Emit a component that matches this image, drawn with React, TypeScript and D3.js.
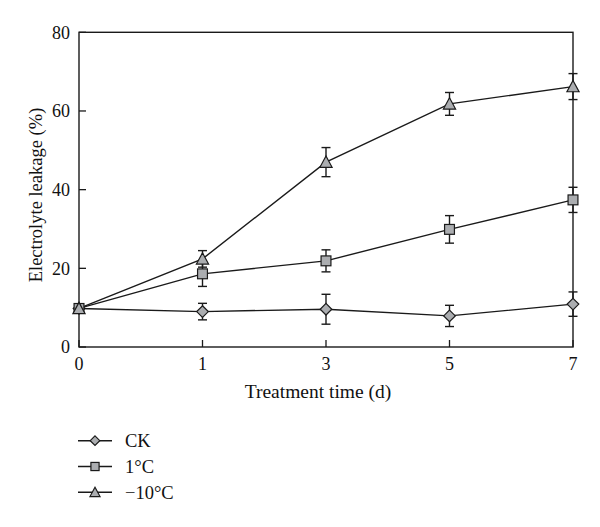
import React from 'react';
import * as d3 from 'd3';

const xLabels = ['0', '1', '3', '5', '7'];
const yTicks = [0, 20, 40, 60, 80];
const seriesNames = ['CK', '1°C', '−10°C'];
const ckValues = [9.8, 9.0, 9.6, 7.9, 10.9];
const ckErrors = [0.8, 2.1, 3.8, 2.7, 3.1];
const c1Values = [9.8, 18.6, 21.9, 29.9, 37.4];
const c1Errors = [0.8, 3.2, 2.8, 3.5, 3.2];
const m10Values = [9.8, 22.4, 47.0, 61.8, 66.2];
const m10Errors = [0.8, 2.1, 3.7, 2.9, 3.3];

const FONT = '"Liberation Serif", "DejaVu Serif", serif';
const STROKE = '#1a1a1a';
const FILL = '#abadb0';

function marker(kind: string, cx: number, cy: number, s: number, key?: string) {
  if (kind === 'diamond') {
    return <path key={key} d={`M${cx},${cy - s}L${cx + s},${cy}L${cx},${cy + s}L${cx - s},${cy}Z`} fill={FILL} stroke={STROKE} strokeWidth={1.2} />;
  }
  if (kind === 'square') {
    const h = s * 0.85;
    return <rect key={key} x={cx - h} y={cy - h} width={2 * h} height={2 * h} fill={FILL} stroke={STROKE} strokeWidth={1.2} />;
  }
  const h = s * 1.05;
  return <path key={key} d={`M${cx},${cy - h}L${cx + h},${cy + h * 0.85}L${cx - h},${cy + h * 0.85}Z`} fill={FILL} stroke={STROKE} strokeWidth={1.2} />;
}

export default function App() {
  const x = d3.scalePoint<string>().domain(xLabels).range([79, 573]);
  const y = d3.scaleLinear().domain([0, 80]).range([347, 32.3]);
  const series = [
    { name: seriesNames[0], values: ckValues, errors: ckErrors, kind: 'diamond' },
    { name: seriesNames[1], values: c1Values, errors: c1Errors, kind: 'square' },
    { name: seriesNames[2], values: m10Values, errors: m10Errors, kind: 'triangle' },
  ];
  const line = d3.line<number>().x((_, i) => x(xLabels[i]) as number).y((v) => y(v));
  const cap = 4.5;
  return (
    <svg width={600} height={527} style={{ position: 'absolute', left: 0, top: 0, background: '#fff' }} fontFamily={FONT}>
      <rect x={0} y={0} width={600} height={527} fill="#fff" />
      <rect x={79} y={y(80)} width={573 - 79} height={y(0) - y(80)} fill="none" stroke={STROKE} strokeWidth={1.4} />
      {yTicks.map((t) => (
        <g key={'y' + t}>
          <line x1={79} x2={86} y1={y(t)} y2={y(t)} stroke={STROKE} strokeWidth={1.3} />
          <text x={70} y={y(t)} dy="0.35em" textAnchor="end" fontSize={18} fill="#111">{t}</text>
        </g>
      ))}
      {xLabels.map((l) => (
        <g key={'x' + l}>
          <line x1={x(l)} x2={x(l)} y1={y(0)} y2={y(0) - 7} stroke={STROKE} strokeWidth={1.3} />
          <text x={x(l)} y={370} textAnchor="middle" fontSize={18} fill="#111">{l}</text>
        </g>
      ))}
      <text x={318} y={398} textAnchor="middle" fontSize={19.5} fill="#111">Treatment time (d)</text>
      <text transform={`translate(42,195) rotate(-90)`} textAnchor="middle" fontSize={18.5} fill="#111">Electrolyte leakage (%)</text>
      {series.map((s) => (
        <path key={'l' + s.name} d={line(s.values) || ''} fill="none" stroke={STROKE} strokeWidth={1.4} />
      ))}
      {series.map((s) => (
        <g key={'e' + s.name}>
          {s.values.map((v, i) => {
            const cx = x(xLabels[i]) as number;
            const y1 = y(v + s.errors[i]);
            const y2 = y(v - s.errors[i]);
            return (
              <g key={i}>
                <line x1={cx} x2={cx} y1={y1} y2={y2} stroke={STROKE} strokeWidth={1.4} />
                <line x1={cx - cap} x2={cx + cap} y1={y1} y2={y1} stroke={STROKE} strokeWidth={1.4} />
                <line x1={cx - cap} x2={cx + cap} y1={y2} y2={y2} stroke={STROKE} strokeWidth={1.4} />
              </g>
            );
          })}
        </g>
      ))}
      {series.map((s) => (
        <g key={'m' + s.name}>
          {s.values.map((v, i) => marker(s.kind, x(xLabels[i]) as number, y(v), 5.8, 'k' + i))}
        </g>
      ))}
      {series.map((s, i) => {
        const ly = 440.7 + i * 25.8;
        return (
          <g key={'lg' + s.name}>
            <line x1={78} x2={112} y1={ly} y2={ly} stroke={STROKE} strokeWidth={1.4} />
            {marker(s.kind, 95, ly, 4.8)}
            <text x={125} y={ly} dy="0.35em" fontSize={18.5} fill="#111">{s.name}</text>
          </g>
        );
      })}
    </svg>
  );
}
